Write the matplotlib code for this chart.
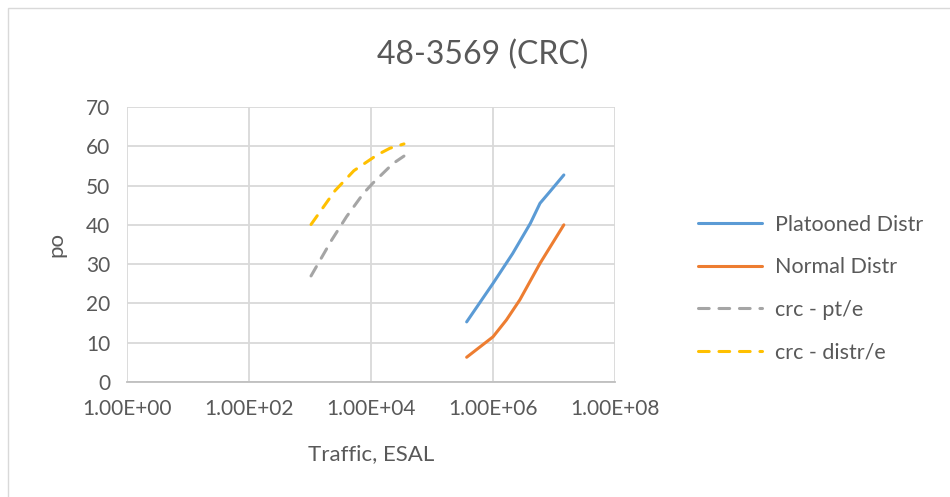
import numpy as np
import matplotlib
matplotlib.use('Agg')
import matplotlib.pyplot as plt
from matplotlib.patches import Rectangle

plt.rcParams['font.family'] = ['Lato', 'DejaVu Sans']

# dados
plat_x = [3.7e5, 1.0e6, 2.1e6, 4.1e6, 5.9e6, 8.5e6, 1.45e7]
plat_y = [15.3, 25.1, 32.7, 40.4, 45.5, 48.4, 52.7]

norm_x = [3.7e5, 1.0e6, 1.66e6, 2.75e6, 5.9e6, 1.45e7]
norm_y = [6.3, 11.5, 15.8, 20.9, 30.2, 40.0]

pte_x = [1.04e3, 2.26e3, 3.98e3, 7.5e3, 1.07e4, 2.29e4, 3.47e4]
pte_y = [27.0, 36.1, 42.1, 48.0, 50.6, 55.6, 57.5]

distre_x = [1.04e3, 2.57e3, 5.25e3, 1.26e4, 2.04e4, 3.47e4]
distre_y = [40.1, 48.7, 53.8, 57.8, 59.5, 60.6]

xticks = [1e0, 1e2, 1e4, 1e6, 1e8]
xticklabels = ['1.00E+00', '1.00E+02', '1.00E+04', '1.00E+06', '1.00E+08']
yticks = [0, 10, 20, 30, 40, 50, 60, 70]

txt = '#595959'
grid = '#d9d9d9'

fig = plt.figure(figsize=(9.5, 4.97), dpi=100)
fig.patches.append(Rectangle((8/950, -0.1), 1.1, 1 - 8/497 + 0.1, transform=fig.transFigure,
                             fill=False, edgecolor='#d9d9d9', linewidth=1.0))
ax = fig.add_axes([127/950, 1 - 382/497, (615-127)/950, (382-107)/497])

ax.plot(plat_x, plat_y, color='#5B9BD5', lw=2.2, solid_capstyle='round', label='Platooned Distr')
ax.plot(norm_x, norm_y, color='#ED7D31', lw=2.2, solid_capstyle='round', label='Normal Distr')
ax.plot(pte_x, pte_y, color='#A5A5A5', lw=2.2, dashes=(3.5, 3.2), dash_capstyle='round', label='crc - pt/e')
ax.plot(distre_x, distre_y, color='#FFC000', lw=2.2, dashes=(3.5, 3.2), dash_capstyle='round', label='crc - distr/e')

ax.set_xscale('log')
ax.set_xlim(1e0, 1e8)
ax.set_ylim(0, 70)
ax.set_xticks(xticks)
ax.set_xticklabels(xticklabels)
ax.minorticks_off()
ax.set_yticks(yticks)
ax.tick_params(length=0, labelsize=15, colors=txt, pad=12)
ax.grid(True, color=grid, lw=1.3)
ax.set_axisbelow(True)
for s in ['top', 'right', 'left']:
    ax.spines[s].set_visible(False)
ax.spines['bottom'].set_color('#bfbfbf')
ax.spines['bottom'].set_linewidth(1.3)

ax.set_xlabel('Traffic, ESAL', fontsize=16, color=txt, labelpad=18)
ax.set_ylabel('po', fontsize=16, color=txt, labelpad=14)
fig.text(483/950, 1 - 55/497, '48-3569 (CRC)', ha='center', va='center', fontsize=23, color=txt)

leg = ax.legend(loc='center left', bbox_to_anchor=(1.13, 0.34), frameon=False, fontsize=15.5,
                labelcolor=txt, handlelength=3.0, handletextpad=0.6, labelspacing=1.05)

fig.savefig('out.png', dpi=100)
